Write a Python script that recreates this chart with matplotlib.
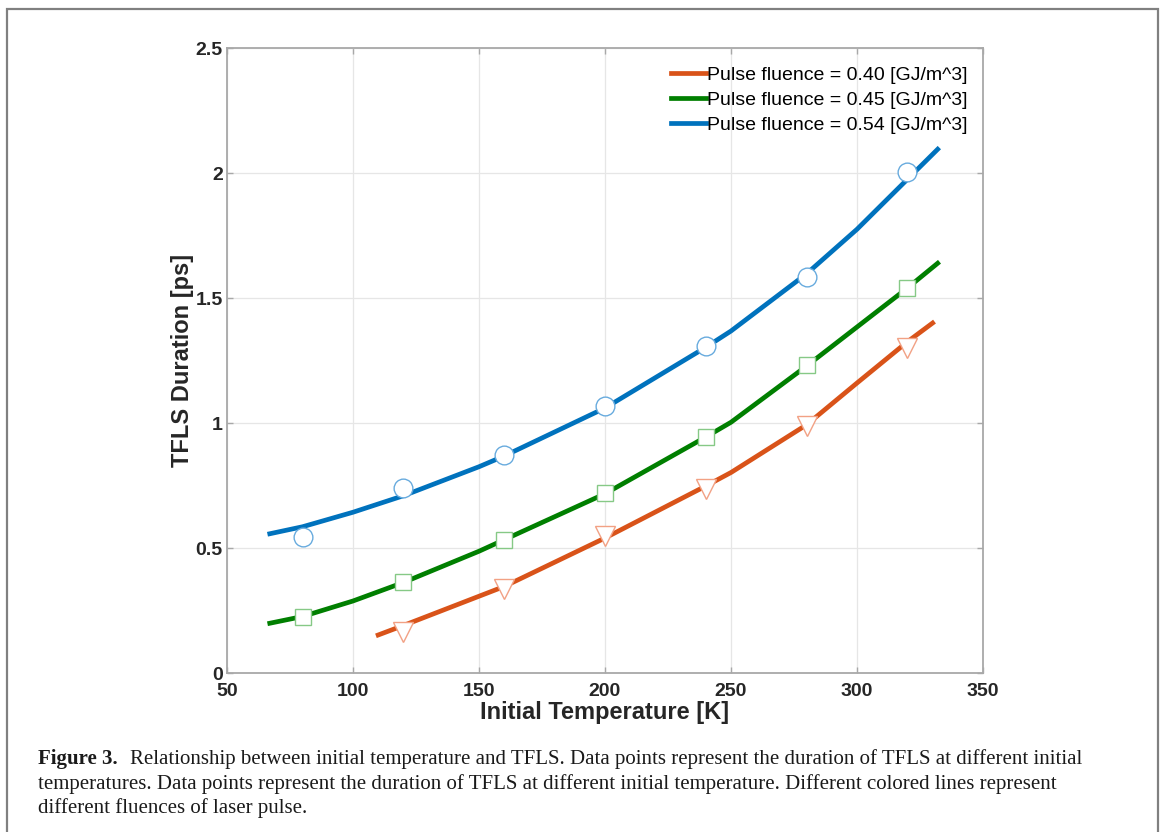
import matplotlib
matplotlib.use("Agg")
import matplotlib.pyplot as plt
from matplotlib.patches import Rectangle

# measured data points (markers)
temps = [80, 120, 160, 200, 240, 280, 320]
dur_054 = [0.546, 0.740, 0.873, 1.067, 1.307, 1.585, 2.006]
dur_045 = [0.226, 0.366, 0.533, 0.720, 0.944, 1.234, 1.541]
temps_040 = [120, 160, 200, 240, 280, 320]
dur_040 = [0.164, 0.338, 0.549, 0.738, 0.990, 1.299]

# fitted curves
fit_t_054 = [67, 80, 100, 120, 150, 160, 200, 240, 250, 280, 300, 320, 332]
fit_054 = [0.557, 0.585, 0.643, 0.709, 0.825, 0.868, 1.060, 1.303, 1.368,
           1.597, 1.775, 1.975, 2.095]
fit_t_045 = [67, 80, 100, 120, 150, 160, 200, 240, 250, 280, 300, 320, 332]
fit_045 = [0.199, 0.226, 0.288, 0.362, 0.487, 0.533, 0.717, 0.944, 1.003,
           1.228, 1.384, 1.540, 1.639]
fit_t_040 = [110, 120, 150, 160, 200, 240, 250, 280, 300, 320, 330]
fit_040 = [0.152, 0.190, 0.307, 0.346, 0.540, 0.748, 0.802, 0.993, 1.160,
           1.325, 1.400]

labels = ["Pulse fluence = 0.40 [GJ/m^3]",
          "Pulse fluence = 0.45 [GJ/m^3]",
          "Pulse fluence = 0.54 [GJ/m^3]"]
xticks = [50, 100, 150, 200, 250, 300, 350]
yticks = [0, 0.5, 1, 1.5, 2, 2.5]
ytick_labels = ["0", "0.5", "1", "1.5", "2", "2.5"]

caption_bold = "Figure 3."
caption_lines = [
    "Relationship between initial temperature and TFLS. Data points represent the duration of TFLS at different initial",
    "temperatures. Data points represent the duration of TFLS at different initial temperature. Different colored lines represent",
    "different fluences of laser pulse.",
]

plt.rcParams['font.family'] = ['Liberation Sans', 'DejaVu Sans']

fig = plt.figure(figsize=(11.65, 8.32), dpi=100)
ax = fig.add_axes([0.1948, 0.1911, 0.649, 0.7512])

c_or, c_gr, c_bl = "#D95319", "#007F00", "#0072BD"

ax.plot(fit_t_040, fit_040, color=c_or, lw=3.4, label=labels[0], zorder=3)
ax.plot(fit_t_045, fit_045, color=c_gr, lw=3.4, label=labels[1], zorder=3)
ax.plot(fit_t_054, fit_054, color=c_bl, lw=3.4, label=labels[2], zorder=3)

ax.plot(temps_040, dur_040, linestyle='none', marker='v', ms=14, mfc='white',
        mec='#F2A184', mew=1.0, zorder=4)
ax.plot(temps, dur_045, linestyle='none', marker='s', ms=11.5, mfc='white',
        mec='#86C986', mew=1.0, zorder=4)
ax.plot(temps, dur_054, linestyle='none', marker='o', ms=13.5, mfc='white',
        mec='#68ABDE', mew=1.0, zorder=4)

ax.set_xlim(50, 350)
ax.set_ylim(0, 2.5)
ax.set_xticks(xticks)
ax.set_yticks(yticks)
ax.set_yticklabels(ytick_labels)
ax.grid(True, color='#e6e6e6', lw=0.9)
ax.set_axisbelow(True)
for s in ax.spines.values():
    s.set_color('#a8a8a8')
    s.set_linewidth(1.3)
ax.tick_params(direction='in', length=4, width=1, color='#a8a8a8',
               top=True, right=True, labelsize=14, labelcolor='#262626')
ax.tick_params(axis='x', pad=7)
ax.tick_params(axis='y', pad=3)
for t in ax.get_xticklabels() + ax.get_yticklabels():
    t.set_fontweight('bold')

ax.set_xlabel("Initial Temperature [K]", fontsize=17, fontweight='bold',
              color='#262626', labelpad=1)
ax.set_ylabel("TFLS Duration [ps]", fontsize=17, fontweight='bold',
              color='#262626', labelpad=1)

ax.legend(loc='upper right', bbox_to_anchor=(0.995, 0.99), frameon=False,
          fontsize=14, handlelength=1.8, handletextpad=0.05, labelspacing=0.38,
          borderaxespad=0.2)

# outer frame
fig.patches.append(Rectangle((7 / 1165, -0.05), 1151 / 1165, 1.05 - 9 / 832,
                             transform=fig.transFigure, fill=False,
                             edgecolor='#808080', lw=1.6))

# caption
ys = [759, 784, 808]
fs = 15
fig.canvas.draw()
r = fig.canvas.get_renderer()
tb = fig.text(38 / 1165, 1 - ys[0] / 832, caption_bold, fontsize=fs, fontweight='bold',
              family='Liberation Serif', va='center', color='#1a1a1a')
bb = tb.get_window_extent(renderer=r)
fig.text(bb.x1 / 1165 + 12 / 1165, 1 - ys[0] / 832, caption_lines[0], fontsize=fs,
         family='Liberation Serif', va='center', color='#1a1a1a')
for y, line in zip(ys[1:], caption_lines[1:]):
    fig.text(38 / 1165, 1 - y / 832, line, fontsize=fs, family='Liberation Serif',
             va='center', color='#1a1a1a')

fig.savefig("out.png", dpi=100)
